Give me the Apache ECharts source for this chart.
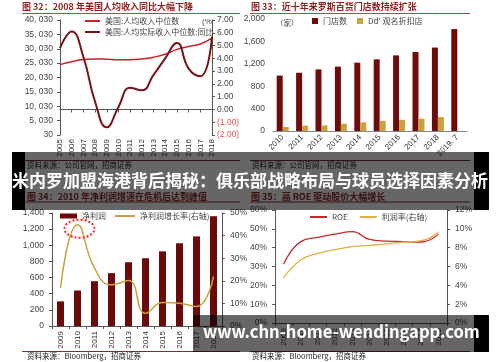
<!DOCTYPE html>
<html><head><meta charset="utf-8">
<script src="https://cdn.jsdelivr.net/npm/echarts@6/dist/echarts.min.js"></script>
<style>html,body{margin:0;padding:0;background:#fff}#c{width:500px;height:362px}</style>
</head><body><div id="c"></div>
<script>
// ---- Chart 32 data ----
const years1 = ['2005','2006','2007','2008','2009','2010','2011','2012','2013','2014','2015','2016','2017','2018'];
const medianIncome = [24500, 25500, 26300, 26500, 26400, 26200, 26200, 26500, 27100, 28100, 29800, 30800, 31700, 33700];
const realIncomeYoY = [4.8, 6.1, 4.1, 0.6, -1.4, 0.2, 1.7, 1.5, 2.7, 4.0, 5.2, 3.2, 2.6, 5.7];
// ---- Chart 33 data ----
const years2 = ['2010','2011','2012','2013','2014','2015','2016','2017','2018','2019. 7'];
const storeCount = [990, 1040, 1100, 1150, 1220, 1280, 1350, 1410, 1490, 1820];
const ddsCount = [70, 95, 100, 130, 155, 180, 200, 220, 250, null];
// ---- Chart 34 data ----
const years3 = ['2009','2010','2011','2012','2013','2014','2015','2016','2017','2018'];
const netProfit = [305, 440, 555, 655, 790, 840, 925, 1025, 1110, 1360];
const profitGrowth = [16.7, 44.8, 25.6, 18.2, 20.1, 5.6, 10.4, 10.1, 8.6, 21.9];
// ---- Chart 35 data ----
const years4 = ['2009','2010','2011','2012','2013','2014','2015','2016','2017','2018'];
const roe = [31.2, 43.2, 45.5, 47.2, 48.5, 44.4, 43.5, 43.2, 43.0, 47.2];
const margin = [4.8, 6.7, 7.4, 7.8, 8.1, 8.25, 8.4, 8.6, 8.75, 9.7];

const titles = ['图 32：2008 年美国人均收入同比大幅下降', '图 33：近十年来罗斯百货门店数持续扩张', '图 34：2010 年净利润增速在危机后达到峰值', '图 35：高 ROE 驱动股价大幅增长'];
const sources = ['资料来源：公司官网，招商证券', '资料来源：Bloomberg，招商证券'];
const banner = '米内罗加盟海港背后揭秘：俱乐部战略布局与球员选择因素分析';
const site = 'www.chn-home-wendingapp.com';

const AX = '#555', TXT = '#444', FS = 8.5;
const SANS = '"Liberation Sans", Arial, "Noto Sans CJK SC", sans-serif';
const CJK = '"Noto Sans CJK SC", sans-serif';

function axisBase(extra) {
  return Object.assign({
    splitLine: {show: false},
    axisLine: {show: true, lineStyle: {color: AX}},
    axisTick: {show: true, lineStyle: {color: AX}, length: 3},
    axisLabel: {fontSize: FS, color: TXT, fontFamily: SANS}
  }, extra);
}
function fmtThousands(v) {
  if (v < 1000) return String(v);
  return Math.floor(v / 1000) + ', ' + String(v % 1000).padStart(3, '0');
}
function fitSize(text, family, weight, targetW) {
  const ctx = document.createElement('canvas').getContext('2d');
  ctx.font = weight + ' 100px ' + family;
  return 100 * targetW / ctx.measureText(text).width;
}

const chart = echarts.init(document.getElementById('c'), null, {renderer: 'canvas'});
const legText = {fontSize: 8, color: '#444', fontFamily: CJK};

const option = {
  animation: false,
  backgroundColor: '#fff',
  textStyle: {fontFamily: SANS},
  grid: [
    {left: 60, top: 20, width: 152, height: 115},
    {left: 273, top: 19, width: 194, height: 112},
    {left: 52, top: 213, width: 170, height: 113},
    {left: 275, top: 210, width: 172, height: 113}
  ],
  legend: [
    {orient: 'vertical', left: 85, top: 17, itemGap: 3, itemWidth: 15, itemHeight: 2, padding: 0, icon: 'rect',
     textStyle: legText, data: ['美国:人均收入中位数', '美国:人均实际收入中位数:同比']},
    {left: 312, top: 17, itemGap: 10, itemWidth: 6, itemHeight: 6, padding: 0, icon: 'rect',
     textStyle: legText, data: ['门店数', "Dd' 观名折扣店"]},
    {left: 60, top: 212, itemWidth: 17, itemHeight: 5, padding: 0, icon: 'rect',
     textStyle: legText, data: ['净利润']},
    {left: 115, top: 212, itemWidth: 20, itemHeight: 2, padding: 0, icon: 'rect',
     textStyle: legText, data: ['净利润增长率(右轴)']},
    {left: 310, top: 213, itemGap: 12, itemWidth: 17, itemHeight: 2, padding: 0, icon: 'rect',
     textStyle: legText, data: ['ROE', '利润率(右轴)']}
  ],
  xAxis: [
    axisBase({gridIndex: 0, type: 'category', data: years1, boundaryGap: false,
      axisLabel: {rotate: 90, fontSize: 8, color: '#333', margin: 4, interval: 0, fontFamily: SANS}}),
    axisBase({gridIndex: 1, type: 'category', data: years2,
      axisTick: {show: false}, axisLine: {show: true, lineStyle: {color: '#888'}},
      axisLabel: {rotate: 45, fontSize: 8, color: '#333', margin: 5, interval: 0, fontFamily: SANS}}),
    axisBase({gridIndex: 2, type: 'category', data: years3,
      axisLabel: {rotate: 90, fontSize: 8, color: '#333', margin: 5, interval: 0, fontFamily: SANS}}),
    axisBase({gridIndex: 3, type: 'category', data: years4,
      axisLabel: {rotate: 90, fontSize: 8, color: '#333', margin: 5, interval: 0, fontFamily: SANS}})
  ],
  yAxis: [
    axisBase({gridIndex: 0, type: 'value', min: 30, max: 40030, interval: 5000,
      axisLabel: {fontSize: FS, color: TXT, margin: 7, fontFamily: SANS, formatter: fmtThousands}}),
    axisBase({gridIndex: 0, type: 'value', position: 'right', min: -2, max: 7, interval: 1,
      axisLabel: {fontSize: FS, color: TXT, margin: 5, fontFamily: SANS,
        formatter: v => v < 0 ? '{r|(' + Math.abs(v).toFixed(2) + ')}' : v.toFixed(2),
        rich: {r: {color: '#e05555', fontSize: FS, fontFamily: SANS}}}}),
    axisBase({gridIndex: 1, type: 'value', min: 0, max: 2000, interval: 400,
      axisTick: {show: false}, axisLine: {show: false}}),
    axisBase({gridIndex: 2, type: 'value', min: 0, max: 1400, interval: 200}),
    axisBase({gridIndex: 2, type: 'value', position: 'right', min: 0, max: 50, interval: 10,
      axisLabel: {fontSize: FS, color: TXT, fontFamily: SANS, formatter: '{value}%'}}),
    axisBase({gridIndex: 3, type: 'value', min: 0, max: 60, interval: 10,
      axisLabel: {fontSize: FS, color: TXT, fontFamily: SANS, formatter: '{value}%'}}),
    axisBase({gridIndex: 3, type: 'value', position: 'right', min: 0, max: 12, interval: 2,
      axisLabel: {fontSize: FS, color: TXT, fontFamily: SANS, formatter: '{value}%'}})
  ],
  series: [
    {name: '美国:人均收入中位数', type: 'line', xAxisIndex: 0, yAxisIndex: 0, data: medianIncome,
     smooth: true, symbol: 'none', lineStyle: {color: '#c4232b', width: 1.5}, itemStyle: {color: '#c4232b'}},
    {name: '美国:人均实际收入中位数:同比', type: 'line', xAxisIndex: 0, yAxisIndex: 1, data: realIncomeYoY,
     smooth: true, symbol: 'none', lineStyle: {color: '#761517', width: 2}, itemStyle: {color: '#761517'}},
    {name: '门店数', type: 'bar', xAxisIndex: 1, yAxisIndex: 2, data: storeCount,
     barWidth: 6, barGap: '0%', itemStyle: {color: '#6e0b0b'}},
    {name: "Dd' 观名折扣店", type: 'bar', xAxisIndex: 1, yAxisIndex: 2, data: ddsCount,
     barWidth: 6, barGap: '0%', itemStyle: {color: '#c9a23c'}},
    {name: '净利润', type: 'bar', xAxisIndex: 2, yAxisIndex: 3, data: netProfit,
     barWidth: 7, itemStyle: {color: '#6b0a0a'}},
    {name: '净利润增长率(右轴)', type: 'line', xAxisIndex: 2, yAxisIndex: 4, data: profitGrowth,
     smooth: true, symbol: 'none', lineStyle: {color: '#c9a23c', width: 1.5}, itemStyle: {color: '#c9a23c'}},
    {name: 'ROE', type: 'line', xAxisIndex: 3, yAxisIndex: 5, data: roe,
     smooth: true, symbol: 'none', lineStyle: {color: '#c8282d', width: 1.3}, itemStyle: {color: '#c8282d'}},
    {name: '利润率(右轴)', type: 'line', xAxisIndex: 3, yAxisIndex: 6, data: margin,
     smooth: true, symbol: 'none', lineStyle: {color: '#e2b040', width: 1.3}, itemStyle: {color: '#e2b040'}}
  ]
};
chart.setOption(option);

// peak marker position computed from the data through the axes
const peakIdx = profitGrowth.indexOf(Math.max.apply(null, profitGrowth));
const pk = chart.convertToPixel({xAxisIndex: 2, yAxisIndex: 4}, [years3[peakIdx], profitGrowth[peakIdx]]);

function titleText(x, y, t) {
  return {type: 'text', left: x, top: y, z: 50,
    style: {text: t, fill: '#8c2424', font: 'bold 9px ' + CJK}};
}
function hline(x1, x2, y, color) {
  return {type: 'line', z: 50, shape: {x1: x1, y1: y, x2: x2, y2: y}, style: {stroke: color || '#b54848', lineWidth: 1}};
}
function srcText(x, y, t) {
  return {type: 'text', left: x, top: y, z: 50,
    style: {text: t, fill: '#222', font: '7.5px ' + CJK}};
}

const bannerSize = fitSize(banner, CJK, 'bold', 476);
const siteSize = fitSize(site, CJK, 'bold', 277);

const graphics = [
  titleText(22, 2, titles[0]), hline(22, 240, 13.5),
  titleText(251, 2, titles[1]), hline(250, 470, 13.5),
  {type: 'text', left: 202, top: 18, z: 50, style: {text: '(%', fill: '#444', font: '8px ' + SANS}},
  {type: 'text', left: 276, top: 19, z: 50, style: {text: '（家）', fill: '#444', font: '7.5px ' + CJK}},
  hline(22, 240, 160.5, '#8a2a2a'), hline(250, 470, 160.5, '#8a2a2a'),
  srcText(27, 161, sources[0]), srcText(252, 161, sources[0]),
  titleText(27, 192, titles[2]), hline(25, 240, 202, '#8a2a2a'),
  titleText(251, 192, titles[3]), hline(250, 470, 202, '#8a2a2a'),
  hline(22, 240, 351.5, '#8a2a2a'), hline(250, 470, 351.5, '#8a2a2a'),
  srcText(27, 352, sources[1]), srcText(252, 352, sources[1]),
  {type: 'ellipse', z: 60, shape: {cx: pk[0] + 2, cy: pk[1] + 4, rx: 15, ry: 9},
   style: {fill: 'none', stroke: '#ff2626', lineWidth: 2, lineDash: [2, 2]}},
  // overlay bands
  {type: 'rect', z: 100, shape: {x: 25, y: 152, width: 449, height: 58}, style: {fill: 'rgba(0,0,0,0.6)'}},
  {type: 'rect', z: 100, shape: {x: 12, y: 152, width: 13, height: 58}, style: {fill: '#000'}},
  {type: 'rect', z: 100, shape: {x: 474, y: 152, width: 15, height: 58}, style: {fill: '#000'}},
  {type: 'rect', z: 100, shape: {x: 193, y: 315, width: 281, height: 37}, style: {fill: 'rgba(0,0,0,0.6)'}},
  {type: 'rect', z: 100, shape: {x: 474, y: 315, width: 15, height: 37}, style: {fill: '#000'}},
  {type: 'text', z: 101, left: 12, top: 183 - bannerSize * 0.62,
   style: {text: banner, fill: '#fff', font: 'bold ' + bannerSize.toFixed(2) + 'px ' + CJK}},
  {type: 'text', z: 101, left: 203, top: 335 - siteSize * 0.68,
   style: {text: site, fill: '#fff', font: 'bold ' + siteSize.toFixed(2) + 'px ' + CJK}}
];
chart.setOption({graphic: graphics});
</script></body></html>
